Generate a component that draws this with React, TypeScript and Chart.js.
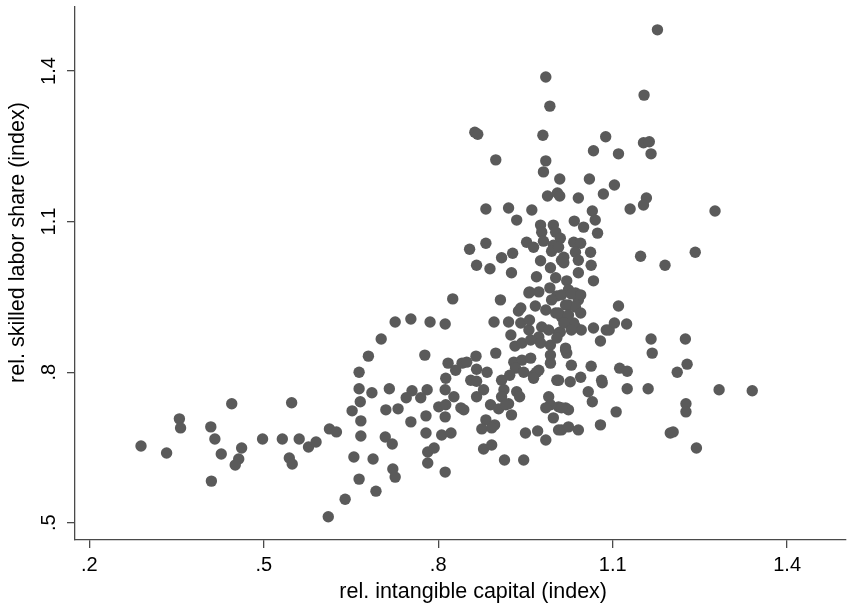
import { useEffect, useRef } from 'react';
import { Chart, registerables } from 'chart.js';

Chart.register(...registerables);

// rel. intangible capital (index)
const intangibleCapital = [
  0.289, 0.333, 0.355, 0.357, 0.409, 0.416, 0.427, 0.445, 0.462, 0.457,
  0.451, 0.410, 0.498, 0.532, 0.548, 0.561, 0.577, 0.590, 0.544, 0.549,
  0.613, 0.625, 0.640, 0.611, 0.655, 0.664, 0.693, 0.688, 0.667, 0.709,
  0.721, 0.722, 0.726, 0.667, 0.652, 0.666, 0.664, 0.686, 0.664, 0.680,
  0.702, 0.726, 0.753, 0.710, 0.731, 0.716, 0.755, 0.745, 0.753, 0.786,
  0.812, 0.777, 0.817, 0.813, 0.781, 0.770, 0.812, 0.801, 0.813, 0.779,
  0.812, 0.779, 0.806, 0.822, 0.782, 0.793, 0.782, 0.812, 0.825, 0.863,
  0.868, 0.899, 0.882, 0.854, 0.882, 0.909, 0.928, 0.866, 0.889, 0.926,
  0.907, 0.896, 0.899, 0.865, 0.841, 0.849, 0.830, 0.866, 0.884, 0.856,
  0.866, 0.878, 0.866, 0.827, 0.839, 0.844, 0.890, 0.904, 0.882, 0.897,
  0.875, 0.892, 0.878, 0.892, 0.942, 0.980, 0.985, 0.981, 1.009, 0.988,
  1.005, 1.009, 0.921, 0.961, 0.935, 0.976, 0.978, 0.998, 1.002, 1.010,
  0.952, 0.964, 0.981, 0.998, 0.995, 0.976, 1.012, 0.993, 1.002, 0.969,
  0.957, 0.973, 0.992, 1.004, 1.021, 1.024, 1.036, 1.041, 0.985, 0.992,
  1.177, 1.154, 1.088, 1.067, 1.110, 1.153, 1.163, 1.166, 1.060, 1.103,
  1.084, 1.041, 1.158, 1.153, 1.130, 1.065, 1.070, 1.034, 1.050, 1.074,
  1.033, 1.045, 1.036, 1.041, 1.062, 1.063, 1.067, 1.041, 1.016, 1.016,
  1.007, 1.148, 1.190, 1.242, 1.276, 0.956, 0.967, 0.985, 0.995, 1.002,
  1.012, 1.021, 0.978, 0.990, 1.007, 0.973, 0.921, 0.938, 0.942, 0.956,
  0.957, 1.024, 1.036, 1.045, 1.024, 1.036, 1.046, 1.067, 1.079, 1.089,
  1.012, 1.029, 1.019, 1.033, 1.010, 0.925, 0.932, 0.944, 0.959, 0.976,
  0.993, 1.004, 0.930, 0.944, 0.959, 0.933, 0.947, 0.964, 0.973, 0.993,
  0.993, 1.019, 1.021, 1.029, 1.063, 0.909, 0.923, 0.969, 0.964, 1.004,
  1.027, 1.045, 1.058, 1.065, 1.081, 0.913, 0.909, 0.935, 0.940, 0.990,
  0.993, 1.007, 1.019, 1.024, 0.985, 0.921, 0.926, 0.916, 0.998, 0.950,
  0.971, 0.985, 1.012, 1.024, 1.041, 1.079, 0.914, 0.947, 1.110, 1.094,
  1.103, 1.124, 1.166, 1.168, 1.019, 1.112, 1.125, 1.211, 1.007, 1.082,
  1.125, 1.161, 1.012, 1.106, 1.007, 1.199, 1.204, 1.225, 1.228, 1.283,
  1.340, 1.226, 1.226, 1.244, 1.045, 1.007, 1.024, 1.016, 1.029,
];

// rel. skilled labor share (index)
const skilledLaborShare = [
  0.653, 0.639, 0.707, 0.689, 0.691, 0.667, 0.637, 0.737, 0.649, 0.627,
  0.615, 0.583, 0.667, 0.667, 0.739, 0.667, 0.651, 0.661, 0.629, 0.617,
  0.687, 0.681, 0.547, 0.512, 0.631, 0.587, 0.563, 0.627, 0.673, 0.671,
  0.657, 0.607, 0.591, 0.703, 0.723, 0.741, 0.767, 0.759, 0.800, 0.832,
  0.866, 0.900, 0.906, 0.725, 0.727, 0.767, 0.763, 0.749, 0.701, 0.900,
  0.896, 0.834, 0.818, 0.788, 0.765, 0.749, 0.765, 0.731, 0.735, 0.713,
  0.711, 0.679, 0.675, 0.679, 0.641, 0.649, 0.619, 0.601, 0.946, 1.278,
  1.274, 1.223, 1.125, 1.045, 1.057, 1.028, 1.037, 1.013, 1.006, 0.998,
  0.944, 0.900, 0.838, 0.832, 0.818, 0.820, 0.804, 0.806, 0.800, 0.784,
  0.782, 0.765, 0.751, 0.751, 0.729, 0.725, 0.735, 0.727, 0.705, 0.695,
  0.687, 0.689, 0.647, 0.655, 0.928, 1.272, 1.221, 1.199, 1.185, 1.151,
  1.157, 1.151, 1.127, 1.123, 1.103, 1.093, 1.079, 1.093, 1.079, 1.067,
  1.059, 1.049, 1.061, 1.053, 1.041, 1.022, 1.023, 1.008, 0.988, 0.990,
  0.960, 0.960, 0.968, 0.952, 0.982, 0.964, 0.958, 0.944, 1.388, 1.330,
  1.482, 1.352, 1.269, 1.241, 1.235, 1.257, 1.259, 1.235, 1.185, 1.173,
  1.155, 1.147, 1.147, 1.133, 1.125, 1.121, 1.103, 1.101, 1.089, 1.077,
  1.059, 1.057, 1.039, 1.023, 1.039, 1.013, 0.982, 0.998, 1.029, 1.018,
  1.049, 1.031, 1.013, 1.039, 1.121, 0.958, 0.932, 0.924, 0.944, 0.918,
  0.910, 0.898, 0.890, 0.884, 0.878, 0.870, 0.900, 0.922, 0.898, 0.884,
  0.904, 0.934, 0.930, 0.918, 0.898, 0.890, 0.884, 0.888, 0.862, 0.884,
  0.954, 0.956, 0.934, 0.898, 0.880, 0.874, 0.852, 0.858, 0.864, 0.858,
  0.854, 0.868, 0.820, 0.824, 0.828, 0.808, 0.800, 0.794, 0.804, 0.818,
  0.834, 0.844, 0.838, 0.814, 0.812, 0.784, 0.794, 0.800, 0.788, 0.784,
  0.781, 0.790, 0.761, 0.741, 0.784, 0.765, 0.751, 0.761, 0.751, 0.751,
  0.735, 0.731, 0.729, 0.725, 0.729, 0.737, 0.715, 0.735, 0.709, 0.679,
  0.683, 0.665, 0.685, 0.691, 0.685, 0.695, 0.625, 0.625, 0.932, 0.884,
  0.898, 0.896, 0.866, 0.838, 0.848, 0.808, 0.802, 0.800, 0.784, 0.779,
  0.767, 0.767, 0.729, 0.721, 0.685, 0.679, 0.681, 0.866, 0.816, 0.765,
  0.763, 0.737, 0.721, 0.649, 0.954, 0.918, 0.914, 0.898, 0.884,
];

const xTickValues = [0.2, 0.5, 0.8, 1.1, 1.4];
const xTickLabels = ['.2', '.5', '.8', '1.1', '1.4'];
const yTickValues = [0.5, 0.8, 1.1, 1.4];
const yTickLabels = ['.5', '.8', '1.1', '1.4'];
const xTitle = 'rel. intangible capital (index)';
const yTitle = 'rel. skilled labor share (index)';

const FONT = "'Liberation Sans', Arial, Helvetica, sans-serif";
const AXIS_COLOR = '#4a4a4a';
const MARKER_COLOR = '#5a5a5a';
const TICK_FONT_SIZE = 20;
const TITLE_FONT_SIZE = 21.5;

// Axis titles drawn relative to the chart area (Stata-like placement).
const axisTitlesPlugin = {
  id: 'axisTitles',
  afterDraw(chart: any) {
    const { ctx, chartArea } = chart;
    ctx.save();
    ctx.fillStyle = '#000';
    ctx.font = `${TITLE_FONT_SIZE}px ${FONT}`;
    ctx.textAlign = 'center';
    ctx.textBaseline = 'middle';
    const cx = (chartArea.left + chartArea.right) / 2 + 13;
    ctx.fillText(xTitle, cx, chartArea.bottom + 52);
    const cy = (chartArea.top + chartArea.bottom) / 2 - 31;
    ctx.translate(chartArea.left - 57, cy);
    ctx.rotate(-Math.PI / 2);
    ctx.fillText(yTitle, 0, 0);
    ctx.restore();
  },
};

export default function App() {
  const canvasRef = useRef<HTMLCanvasElement | null>(null);

  useEffect(() => {
    if (!canvasRef.current) return;
    const points = intangibleCapital.map((x, i) => ({ x, y: skilledLaborShare[i] }));
    const chart = new Chart(canvasRef.current, {
      type: 'scatter',
      data: {
        datasets: [
          {
            data: points,
            backgroundColor: MARKER_COLOR,
            borderWidth: 0,
            pointRadius: 5.7,
            pointHoverRadius: 5.7,
          },
        ],
      },
      options: {
        animation: false,
        responsive: false,
        devicePixelRatio: 1,
        layout: { padding: { top: 7, right: 3, left: 0, bottom: 0 } },
        plugins: {
          legend: { display: false },
          tooltip: { enabled: false },
        },
        scales: {
          x: {
            type: 'linear',
            min: 0.1755,
            max: 1.5,
            afterBuildTicks: (s: any) => {
              s.ticks = xTickValues.map((v) => ({ value: v }));
            },
            afterFit: (s: any) => {
              s.height = 72;
              s.paddingLeft = 0;
              s.paddingRight = 0;
            },
            ticks: {
              callback: (v: any) => xTickLabels[xTickValues.indexOf(Number(v))],
              color: '#000',
              font: { family: FONT, size: TICK_FONT_SIZE },
              padding: 5,
              maxRotation: 0,
              minRotation: 0,
            },
            grid: {
              display: true,
              drawOnChartArea: false,
              drawTicks: true,
              tickLength: 8,
              color: AXIS_COLOR,
              lineWidth: 1.3,
            },
            border: { display: true, color: AXIS_COLOR, width: 1.3 },
            title: { display: false, text: xTitle },
          },
          y: {
            type: 'linear',
            min: 0.4657,
            max: 1.5275,
            afterBuildTicks: (s: any) => {
              s.ticks = yTickValues.map((v) => ({ value: v }));
            },
            afterFit: (s: any) => {
              s.width = 75;
              s.paddingTop = 0;
              s.paddingBottom = 0;
            },
            ticks: {
              callback: (v: any) => yTickLabels[yTickValues.indexOf(Number(v))],
              color: '#000',
              font: { family: FONT, size: TICK_FONT_SIZE },
              padding: 4,
              minRotation: 90,
              maxRotation: 90,
              crossAlign: 'center',
            },
            grid: {
              display: true,
              drawOnChartArea: false,
              drawTicks: true,
              tickLength: 8,
              color: AXIS_COLOR,
              lineWidth: 1.3,
            },
            border: { display: true, color: AXIS_COLOR, width: 1.3 },
            title: { display: false, text: yTitle },
          },
        },
      },
      plugins: [axisTitlesPlugin],
    });
    return () => chart.destroy();
  }, []);

  return (
    <div style={{ position: 'absolute', left: 0, top: 0, width: 851, height: 612, background: '#fff' }}>
      <canvas ref={canvasRef} width={851} height={612} />
    </div>
  );
}
